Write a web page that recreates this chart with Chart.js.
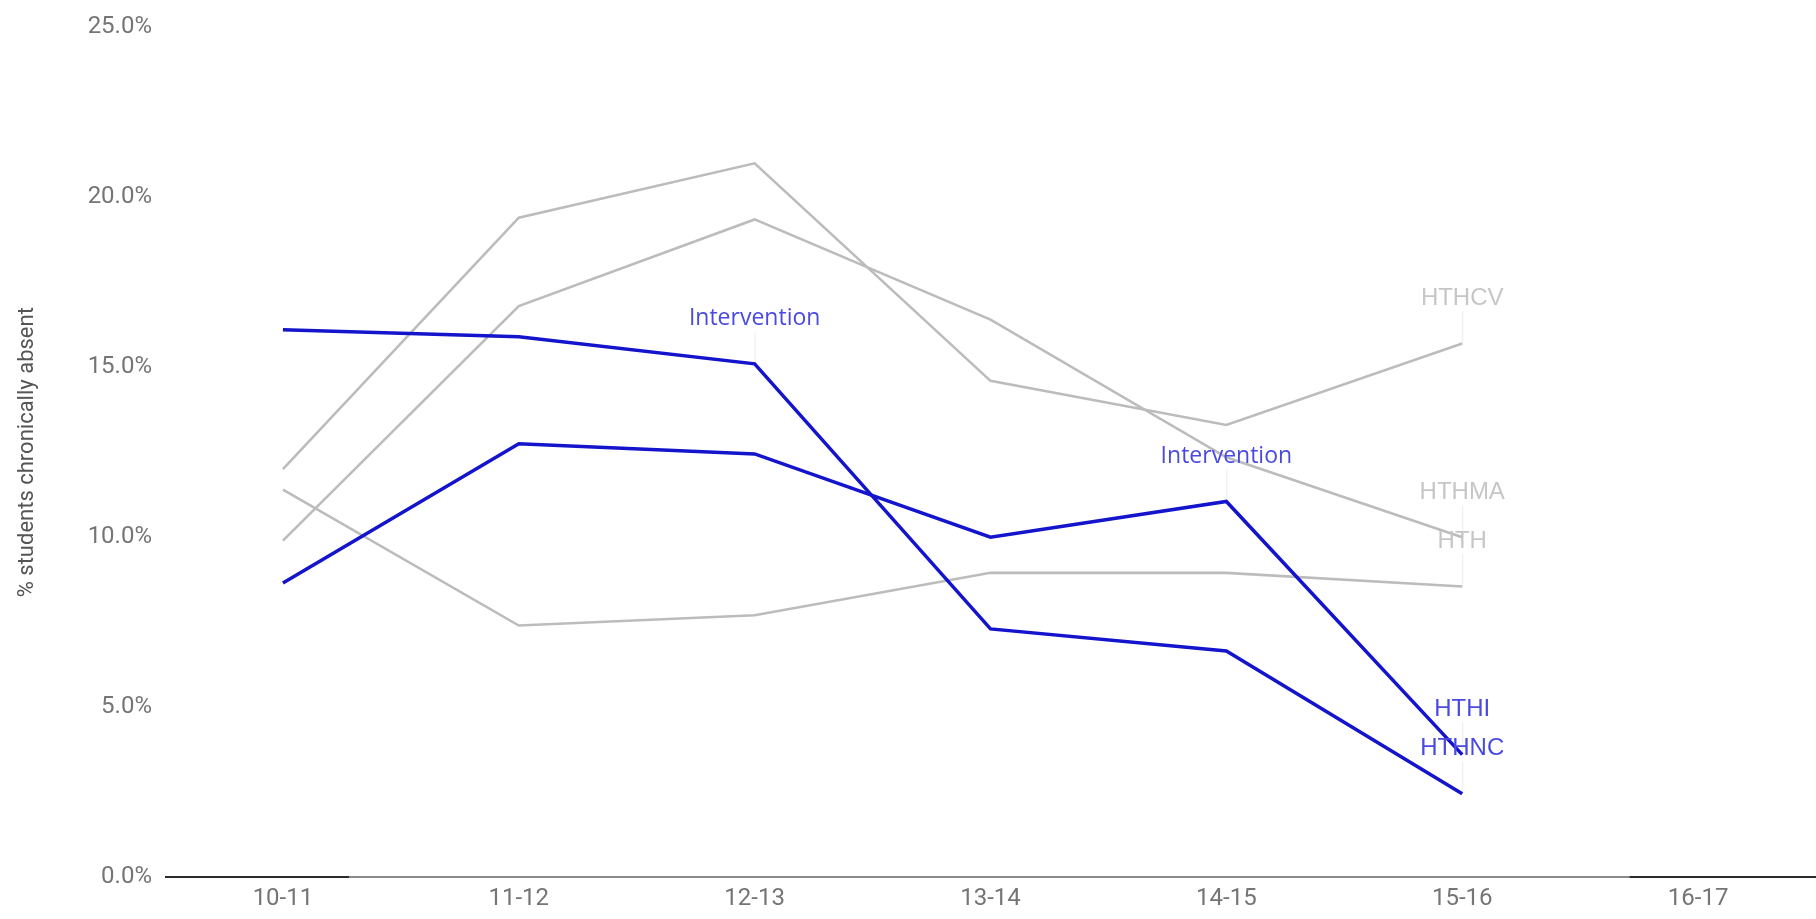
<!DOCTYPE html>
<html>
<head>
<meta charset="utf-8">
<title>Chronic absence</title>
<script src="https://cdn.jsdelivr.net/npm/chart.js@4/dist/chart.umd.min.js"></script>
<style>
    html, body { margin: 0; padding: 0; background: #fff; }
    .chart__wrap { width: 1816px; height: 919px; position: relative; }
</style>
</head>
<body>
<div class="chart__wrap"><canvas id="myChart"></canvas></div>
<script>
// data
const categories = ['10-11', '11-12', '12-13', '13-14', '14-15', '15-16', '16-17'];
const yTicks = [0, 5, 10, 15, 20, 25];

const hthi = [8.65, 12.75, 12.45, 10.0, 11.05, 3.6, null];
const hthnc = [16.1, 15.9, 15.1, 7.3, 6.65, 2.45, null];
const hthcv = [12.0, 19.4, 21.0, 14.6, 13.3, 15.7, null];
const hthma = [9.9, 16.8, 19.35, 16.4, 12.35, 10.0, null];
const hth = [11.4, 7.4, 7.7, 8.95, 8.95, 8.55, null];

// annotation text per point
const hthiNotes = [null, null, null, null, 'Intervention', 'HTHI', null];
const hthncNotes = [null, null, 'Intervention', null, null, 'HTHNC', null];
const hthcvNotes = [null, null, null, null, null, 'HTHCV', null];
const hthmaNotes = [null, null, null, null, null, 'HTHMA', null];
const hthNotes = [null, null, null, null, null, 'HTH', null];

const blue = '#1414cc';
const gray = '#bcbcbc';

Chart.defaults.font.family = 'Roboto';

// baseline at 0, dark at both ends, gray in the middle
const baseline = {
    id: 'baseline',
    beforeDatasetsDraw(chart) {
        const {ctx, chartArea, scales} = chart;
        const y = scales.y.getPixelForValue(0);
        ctx.save();
        ctx.lineWidth = 2;
        ctx.strokeStyle = '#2b2b2b';
        ctx.beginPath();
        ctx.moveTo(chartArea.left, y);
        ctx.lineTo(chartArea.right, y);
        ctx.stroke();
        ctx.strokeStyle = '#8a8a8a';
        ctx.beginPath();
        ctx.moveTo(scales.x.getPixelForValue(0.28), y);
        ctx.lineTo(scales.x.getPixelForValue(5.71), y);
        ctx.stroke();
        ctx.restore();
    }
};

// text labels above points, with a faint stem
const notes = {
    id: 'notes',
    afterDatasetsDraw(chart) {
        const {ctx} = chart;
        ctx.save();
        ctx.textAlign = 'center';
        ctx.textBaseline = 'middle';
        chart.data.datasets.forEach((ds, di) => {
            const meta = chart.getDatasetMeta(di);
            ds.notes.forEach((text, i) => {
                if (!text) return;
                const pt = meta.data[i];
                ctx.strokeStyle = 'rgba(0,0,0,0.08)';
                ctx.lineWidth = 1;
                ctx.beginPath();
                ctx.moveTo(pt.x + 0.5, pt.y - 32);
                ctx.lineTo(pt.x + 0.5, pt.y);
                ctx.stroke();
                if (text === 'Intervention') {
                    ctx.font = '23px "Open Sans"';
                } else {
                    ctx.font = '24px "Liberation Sans"';
                }
                ctx.fillStyle = ds.noteColor;
                ctx.fillText(text, pt.x, pt.y - 45);
            });
        });
        ctx.restore();
    }
};

const lineSet = (label, data, noteList, color, width, noteColor) => ({
    label: label,
    data: data,
    notes: noteList,
    noteColor: noteColor,
    borderColor: color,
    backgroundColor: color,
    borderWidth: width,
    pointRadius: 0,
    tension: 0,
    fill: false,
});

const config = {
    type: 'line',
    data: {
        labels: categories,
        datasets: [
            lineSet('HTHI', hthi, hthiNotes, blue, 3.5, '#4a4ae0'),
            lineSet('HTHNC', hthnc, hthncNotes, blue, 3.5, '#4a4ae0'),
            lineSet('HTHCV', hthcv, hthcvNotes, gray, 2.6, '#c6c6c6'),
            lineSet('HTHMA', hthma, hthmaNotes, gray, 2.6, '#c6c6c6'),
            lineSet('HTH', hth, hthNotes, gray, 2.6, '#c6c6c6'),
        ],
    },
    options: {
        responsive: true,
        maintainAspectRatio: false,
        animation: false,
        layout: {
            padding: { top: 27, right: 0, bottom: 0, left: 0 }
        },
        plugins: {
            legend: { display: false },
            tooltip: { enabled: false },
        },
        scales: {
            x: {
                offset: true,
                grid: { display: false, drawTicks: false },
                border: { display: false },
                ticks: {
                    padding: 8,
                    color: '#757575',
                    font: { size: 24 },
                    maxRotation: 0,
                },
                afterFit(scale) { scale.height = 42; },
            },
            y: {
                min: 0,
                max: 25,
                afterBuildTicks(scale) { scale.ticks = yTicks.map(v => ({ value: v })); },
                grid: { display: false, drawTicks: false },
                border: { display: false },
                ticks: {
                    padding: 13,
                    color: '#757575',
                    font: { size: 24 },
                    callback: v => v.toFixed(1) + '%',
                },
                title: {
                    display: true,
                    text: '% students chronically absent',
                    color: '#555',
                    font: { size: 22 },
                    padding: { top: 14, bottom: 0 },
                },
                afterFit(scale) { scale.width = 165; },
            },
        },
    },
    plugins: [baseline, notes],
};

const myChart = new Chart(document.getElementById('myChart'), config);
</script>
</body>
</html>
